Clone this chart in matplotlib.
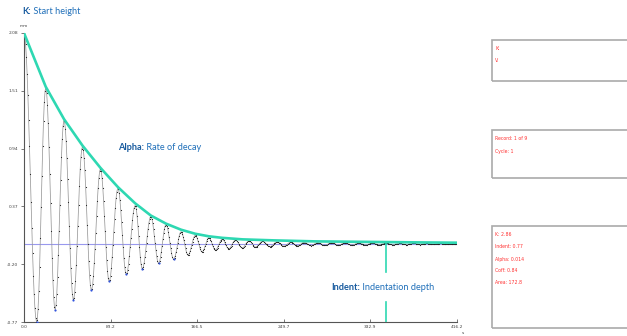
import numpy as np
import matplotlib
matplotlib.use("Agg")
import matplotlib.pyplot as plt
from matplotlib.patches import Rectangle

# extrema of the damped trace (x in s, y in mm)
ext_x = [0.0, 12.2, 20.9, 29.9, 38.5, 47.5, 56.2, 64.8, 73.5, 81.9, 90.3, 98.3,
         106.9, 113.7, 121.9, 129.4, 136.5, 143.8, 151.0, 157.7, 164.7, 171.2,
         177.7, 184.0, 190.5, 196.8, 203.3, 209.7, 216.3, 222.5, 229.3, 236.5,
         243.3, 249.8, 256.3, 262.7, 269.3, 275.9, 282.4, 289.0, 295.5, 302.1,
         308.6, 315.2, 321.7, 328.3, 334.8, 341.4, 347.9, 354.5, 361.0, 367.6,
         374.1, 380.7, 387.2, 393.8, 400.3, 406.9, 413.4, 416.2]
ext_y = [2.08, -0.77, 1.54, -0.65, 1.22, -0.55, 0.96, -0.455, 0.74, -0.37, 0.55, -0.30,
         0.38, -0.245, 0.27, -0.19, 0.19, -0.15, 0.12, -0.11, 0.085, -0.078,
         0.06, -0.06, 0.047, -0.048, 0.038, -0.04, 0.03, -0.032, 0.025, -0.027,
         0.02, -0.022, 0.016, -0.018, 0.014, -0.016, 0.012, -0.014, 0.011, -0.012,
         0.010, -0.011, 0.009, -0.010, 0.008, -0.009, 0.007, -0.008, 0.006, -0.007,
         0.006, -0.006, 0.005, -0.005, 0.005, -0.005, 0.004, 0.0]

# teal decay envelope
env_x = [0.0, 20.9, 38.5, 56.2, 73.5, 90.3, 106.9, 121.9, 136.5, 151.0, 164.7,
         177.7, 190.5, 210.0, 240.0, 280.0, 330.0, 380.0, 416.2]
env_y = [2.08, 1.55, 1.23, 0.97, 0.75, 0.56, 0.40, 0.28, 0.20, 0.14, 0.10,
         0.075, 0.06, 0.045, 0.035, 0.025, 0.02, 0.015, 0.012]

x_ticks = [0.0, 83.2, 166.5, 249.7, 332.9, 416.2]
y_ticks = [2.08, 1.51, 0.94, 0.37, -0.20, -0.77]
indent_x = 347.8

box1_lines = ["K:", "V:"]
box2_lines = ["Record: 1 of 9", "Cycle: 1"]
box3_lines = ["K: 2.86", "Indent: 0.77", "Alpha: 0.014", "Coff: 0.84", "Area: 172.8"]

TEAL = "#2ed8b2"
BLUE_BOLD = "#175a9e"
BLUE_TXT = "#1f6fb9"
RED = "#ff3030"
W, H = 627, 336


def trace(xs):
    """Sampled trace: half-cosine strokes between the read extrema."""
    ex = np.array(ext_x)
    ey = np.array(ext_y)
    i = np.clip(np.searchsorted(ex, xs, side="right") - 1, 0, len(ex) - 2)
    t = (xs - ex[i]) / (ex[i + 1] - ex[i])
    return ey[i] + (ey[i + 1] - ey[i]) * (1 - np.cos(np.pi * t)) / 2


def label(fig, x, y, bold, rest, size=6.6):
    """Bold keyword followed by a plain description, placed in pixel coords."""
    t1 = fig.text(x / W, 1 - y / H, bold, fontsize=size, color=BLUE_BOLD,
                  va="center", ha="left", family="Lato", fontweight="bold")
    fig.canvas.draw()
    bb = t1.get_window_extent()
    fig.text(bb.x1 / fig.bbox.width, 1 - y / H, rest, fontsize=size, color=BLUE_TXT,
             va="center", ha="left", family="Lato")


fig = plt.figure(figsize=(W / 100, H / 100), dpi=100)
ax = fig.add_axes([24 / W, 14 / H, 433 / W, 289 / H])

xs = np.arange(0, 416.2, 0.75)
ys = trace(xs)

ax.axhline(0, color="#9999ee", lw=0.8, zorder=1)
ax.plot(xs, ys, color="#999999", lw=0.55, zorder=2)
ax.scatter(xs, ys, s=0.7, color="#222222", lw=0, zorder=3)
ax.scatter(ext_x[1:18:2], ext_y[1:18:2], s=2.5, color="#3355dd", lw=0, zorder=4)
ax.plot(env_x, env_y, color=TEAL, lw=1.9, solid_capstyle="round", zorder=5)

# indentation depth marker, broken around the label
ax.plot([indent_x, indent_x], [0, -0.28], color=TEAL, lw=1.2, zorder=5)
ax.plot([indent_x, indent_x], [-0.57, -0.77], color=TEAL, lw=1.2, zorder=5)

ax.set_xlim(0, 416.2)
ax.set_ylim(-0.77, 2.08)
ax.set_xticks(x_ticks)
ax.set_xticklabels([f"{v:.1f}" for v in x_ticks])
ax.set_yticks(y_ticks)
ax.set_yticklabels([f"{v:.2f}" for v in y_ticks])
ax.tick_params(axis="both", labelsize=3.2, length=2, width=0.5, colors="#444444", pad=2)
ax.tick_params(axis="x", direction="in")
for side in ("top", "right"):
    ax.spines[side].set_visible(False)
for side in ("left", "bottom"):
    ax.spines[side].set_color("#555555")
    ax.spines[side].set_linewidth(0.8)

fig.text(24 / W, 1 - 26 / H, "mm", fontsize=3.2, color="#444444", ha="center", va="center")
fig.text(462 / W, 1 - 333 / H, "s", fontsize=3.2, color="#444444", ha="left", va="center")

label(fig, 22, 11, "K:", " Start height")
label(fig, 118, 147, "Alpha:", " Rate of decay")
label(fig, 331, 288, "Indent:", " Indentation depth")

# info boxes on the right (run off the right edge)
boxes = [(40, 81, box1_lines), (130, 178, box2_lines), (226, 328, box3_lines)]
for top, bottom, lines in boxes:
    r = Rectangle((492 / W, 1 - bottom / H), 200 / W, (bottom - top) / H,
                  transform=fig.transFigure, fill=False, edgecolor="#aaaaaa", lw=1.2)
    fig.add_artist(r)
    for k, s in enumerate(lines):
        fig.text(495 / W, 1 - (top + 9 + 12 * k) / H, s, fontsize=3.3, color=RED,
                 va="center", ha="left")

fig.savefig("out.png", dpi=100)
